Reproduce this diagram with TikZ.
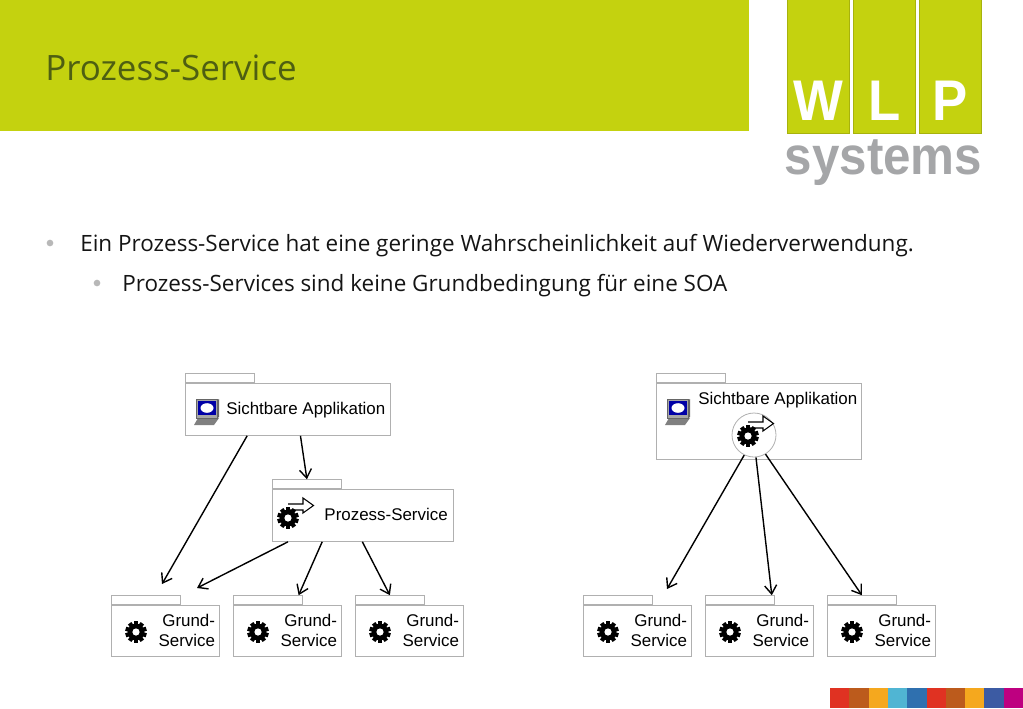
\documentclass[tikz,border=0pt]{standalone}
\usepackage{fontspec}
\setmainfont{Liberation Sans}
\newfontfamily\slidefont{Open Sans}
\usetikzlibrary{arrows.meta,calc}
\definecolor{wlpgreen}{HTML}{C4D20F}
\definecolor{wlpgrey}{HTML}{A5A6A8}
\definecolor{titleolive}{HTML}{4E5F12}
\definecolor{boxline}{HTML}{B0B0B0}
\tikzset{
  pkgbox/.style 2 args={draw=boxline, line width=0.6pt, inner sep=0pt, anchor=north west,
    minimum width=0.75pt*#1, minimum height=0.75pt*#2},
  pkgtab/.style={draw=boxline, line width=0.6pt, inner sep=0pt, anchor=south west,
    minimum width=0.75pt*69, minimum height=0.75pt*9},
  pkgtext/.style={font=\fontsize{12.7}{15}\selectfont, inner sep=0pt, text=black},
  dep/.style={draw=black, line width=1.05pt, -{Straight Barb[length=6.5pt,width=9pt,line width=1.05pt]}},
  slidetext/.style={font=\slidefont\fontsize{16.85}{20}\selectfont, anchor=base west, inner sep=0pt, text=black!92},
  bulletdot/.style={circle, fill=black!28, inner sep=0pt, minimum size=5pt},
  logobar/.style={fill=wlpgreen, draw=wlpgreen!85!black, line width=0.3pt},
  logoletter/.style={font=\fontsize{43}{43}\selectfont\bfseries, text=white, anchor=base, inner sep=0pt, xscale=0.92},
  gear/.pic={
    \fill[black] (0,0) circle (8.4);
    \foreach \ang in {0,36,...,324}
      \fill[black, rotate=\ang] (-2.1,-10.8) rectangle (2.1,0);
    \fill[white] (0,0) circle (3.6);
  },
  prozicon/.pic={
    \draw[black, line width=0.8pt, fill=white, line join=miter]
      (0,-14) -- (15,-14) -- (15,-20) -- (25.5,-12.5) -- (15,-5) -- (15,-8) -- (0,-8);
    \pic at (0,0) {gear};
  },
  laptop/.pic={
    \fill[black!50] (-9,7) -- (12,7) -- (7,14) -- (-13,14) -- cycle;
    \fill[black!60] (9,-10) -- (12,-12) -- (12,6) -- (9,8) -- cycle;
    \draw[black!60, fill=black!35, line width=0.3pt] (-11,-12) rectangle (10,7);
    \fill[blue!65!black] (-9,-10) rectangle (9,4);
    \fill[white] (0,-3) ellipse (6.5 and 4.8);
  },
}
\begin{document}
\begin{tikzpicture}[x=0.75pt, y=-0.75pt]
  \useasboundingbox (0,0) rectangle (1023,708);
  % header and logo
  \fill[wlpgreen] (0,0) rectangle (749,131);
  \node[font=\slidefont\fontsize{26.2}{30}\selectfont, text=titleolive, anchor=base west, inner sep=0pt] (title) at (45,80) {Prozess-Service};
  \fill[logobar] (787,-2) rectangle (849,133);
  \fill[logobar] (853,-2) rectangle (915,133);
  \fill[logobar] (919,-2) rectangle (981,133);
  \node[logoletter] (logow) at (818,120) {W};
  \node[logoletter] (logol) at (885,120) {L};
  \node[logoletter] (logop) at (950,120) {P};
  \node[font=\fontsize{40}{40}\selectfont\bfseries, text=wlpgrey, anchor=base, inner sep=0pt, xscale=0.925] (logos) at (883.5,174) {systems};
  % bullets
  \node[bulletdot] (dot1) at (50,243) {};
  \node[slidetext] (line1) at (80,251) {Ein Prozess-Service hat eine geringe Wahrscheinlichkeit auf Wiederverwendung.};
  \node[bulletdot] (dot2) at (97,283) {};
  \node[slidetext] (line2) at (122,291) {Prozess-Services sind keine Grundbedingung für eine SOA};
  % left side
  \node[pkgbox={205}{52}] (app) at (185,383) {};
  \node[pkgtab] (apptab) at (app.north west) {};
  \pic at (207,411) {laptop};
  \node[pkgtext, anchor=base west] (applabel) at (226,414) {Sichtbare Applikation};
  \node[pkgbox={181}{52}] (proc) at (272,489) {};
  \node[pkgtab] (proctab) at (proc.north west) {};
  \pic at (288,518) {prozicon};
  \node[pkgtext, anchor=base east] (proclabel) at (448,520) {Prozess-Service};
  % right side
  \node[pkgbox={205}{76}] (appb) at (656,383) {};
  \node[pkgtab] (appbtab) at (appb.north west) {};
  \pic at (678,411) {laptop};
  \node[pkgtext, anchor=base west] (appblabel) at (698,404) {Sichtbare Applikation};
  \node[circle, draw=boxline, line width=0.6pt, fill=white, minimum size=33pt, inner sep=0pt] (prozb) at (754,435) {};
  \pic at (748,436) {prozicon};
  % grund services
  \foreach \nm/\xx in {ga/111, gb/233, gc/355, gd/583, ge/705, gf/827} {
    \node[pkgbox={108}{51}] (\nm) at (\xx,605) {};
    \node[pkgtab] (\nm tab) at (\nm.north west) {};
    \pic at (\xx+25,632) {gear};
    \node[pkgtext, anchor=east, align=right] (\nm label) at ($(\nm.east)+(-4.5,0)$) {Grund-\\Service};
  }
  \coordinate (gaend) at (162,584);
  \coordinate (gaendb) at (197,588);
  \coordinate (gdend) at (667,589);
  % connectors
  \draw[dep] ($(app.south west)!0.302!(app.south east)$) -- (gaend);
  \draw[dep] ($(app.south west)!0.561!(app.south east)$) -- (proctab.north);
  \draw[dep] ($(proc.south west)!0.088!(proc.south east)$) -- (gaendb);
  \draw[dep] ($(proc.south west)!0.276!(proc.south east)$) -- ($(gbtab.north west)!0.94!(gbtab.north east)$);
  \draw[dep] ($(proc.south west)!0.497!(proc.south east)$) -- (gctab.north);
  \draw[dep] (prozb.-116) -- (gdend);
  \draw[dep] (prozb.-85) -- ($(getab.north west)!0.957!(getab.north east)$);
  \draw[dep] (prozb.-59) -- (gftab.north);
  % footer
  \foreach \col [count=\i from 0] in {E03222,BC5B1C,F5A81E,50B5D3,2F70AF,E03222,BC5B1C,F5A81E,3C5BA3,BE0080} {
    \definecolor{stripe}{HTML}{\col}
    \fill[stripe] (830+\i*19.3,688) rectangle (830+\i*19.3+19.3,708);
  }
\end{tikzpicture}
\end{document}
